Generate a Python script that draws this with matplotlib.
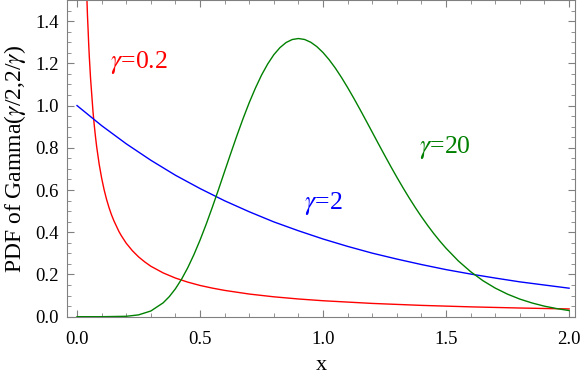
import numpy as np
import matplotlib.pyplot as plt
from matplotlib.ticker import MultipleLocator

plt.rcParams['font.family'] = ['Liberation Serif', 'DejaVu Serif']
plt.rcParams['mathtext.fontset'] = 'stix'

# gamma = 0.2
x_02 = [0.035, 0.0375, 0.04, 0.0425, 0.045, 0.0475, 0.05, 0.055, 0.06, 0.065, 0.07, 0.075, 0.08, 0.09,
        0.1, 0.11, 0.12, 0.13, 0.14, 0.15, 0.17, 0.18, 0.2, 0.225, 0.25, 0.275, 0.3, 0.35,
        0.4, 0.45, 0.5, 0.55, 0.6, 0.7, 0.8, 0.9, 1.0, 1.2, 1.4, 1.6, 1.8, 2.0]
y_02 = [1.706, 1.603, 1.513, 1.4265, 1.361, 1.290, 1.231, 1.130, 1.050, 0.971, 0.908, 0.853, 0.804, 0.7227,
        0.657, 0.6021, 0.556, 0.517, 0.4831, 0.454, 0.4044, 0.3838, 0.348, 0.3126, 0.2835, 0.2597, 0.239, 0.2075,
        0.183, 0.1638, 0.148, 0.1354, 0.1246, 0.1073, 0.0942, 0.0839, 0.0756, 0.0629, 0.0536, 0.0466, 0.0411, 0.0367]

# gamma = 2 (blue)
x_2 = [0.0, 0.1, 0.2, 0.3, 0.4, 0.5, 0.6, 0.7, 0.8, 0.9, 1.0, 1.1, 1.2, 1.3, 1.4, 1.5, 1.6, 1.7, 1.8, 1.9, 2.0]
y_2 = [1.0, 0.905, 0.819, 0.741, 0.670, 0.607, 0.549, 0.497, 0.449, 0.407, 0.368, 0.333, 0.301, 0.273,
       0.247, 0.223, 0.202, 0.183, 0.165, 0.150, 0.135]

# gamma = 20 (green)
x_20 = [0.0, 0.1, 0.2, 0.25, 0.3, 0.35, 0.375, 0.4, 0.425, 0.45, 0.475, 0.5, 0.525, 0.55, 0.575, 0.6,
        0.625, 0.65, 0.675, 0.7, 0.725, 0.75, 0.775, 0.8, 0.825, 0.85, 0.875, 0.9, 0.925, 0.95, 0.975,
        1.0, 1.025, 1.05, 1.075, 1.1, 1.125, 1.15, 1.175, 1.2, 1.225, 1.25, 1.275, 1.3, 1.325, 1.35, 1.375,
        1.4, 1.425, 1.45, 1.475, 1.5, 1.55, 1.6, 1.65, 1.7, 1.75, 1.8, 1.85, 1.9, 1.95, 2.0]
y_20 = [0.0, 0.00001, 0.0019, 0.0086, 0.027, 0.0656, 0.095, 0.1323, 0.1778, 0.2317, 0.2936, 0.3627, 0.438,
        0.5186, 0.6023, 0.6885, 0.7741, 0.8581, 0.9386, 1.014, 1.0825, 1.1444, 1.197, 1.241, 1.2746, 1.2988,
        1.3129, 1.3175, 1.313, 1.2999, 1.279, 1.251, 1.2168, 1.1773, 1.133, 1.085, 1.0346, 0.982, 0.9281,
        0.8737, 0.8191, 0.7652, 0.7121, 0.6605, 0.6106, 0.5627, 0.5169, 0.4734, 0.4324, 0.3937, 0.3577,
        0.3241, 0.2639, 0.2131, 0.1704, 0.1353, 0.1066, 0.0833, 0.0648, 0.0498, 0.0384, 0.0291]

red = '#ff0000'
blue = '#0000ff'
green = '#008000'

fig = plt.figure(figsize=(5.81, 3.78), dpi=100)
ax = fig.add_axes([67 / 581, 1 - 316.7 / 378, (575 - 67) / 581, 316.7 / 378])

ax.plot(x_02, y_02, color=red, lw=1)
ax.plot(x_2, y_2, color=blue, lw=1)
ax.plot(x_20, y_20, color=green, lw=1)

ax.set_xlim(-0.0407, 2.024)
ax.set_ylim(0, 1.5)

ax.xaxis.set_major_locator(MultipleLocator(0.5))
ax.xaxis.set_minor_locator(MultipleLocator(0.1))
ax.yaxis.set_major_locator(MultipleLocator(0.2))
ax.yaxis.set_minor_locator(MultipleLocator(0.05))
ax.xaxis.set_major_formatter(plt.FormatStrFormatter('%.1f'))
ax.yaxis.set_major_formatter(plt.FormatStrFormatter('%.1f'))

frame = '#808080'
for s in ax.spines.values():
    s.set_color(frame)
    s.set_linewidth(0.8)
ax.tick_params(which='both', direction='in', color=frame, top=True, right=True, labelsize=13.5)
ax.tick_params(which='major', length=5)
ax.tick_params(which='minor', length=3)
ax.tick_params(axis='x', pad=10)
ax.tick_params(axis='y', pad=6)

ax.set_xlabel('x', fontsize=16, labelpad=6)
ax.set_ylabel(r'PDF of Gamma($\gamma$/2,2/$\gamma$)', fontsize=17, labelpad=5)

ax.text(0.25, 1.205, r'$\gamma$=0.2', color=red, fontsize=18.5, ha='center', va='center')
ax.text(1.0, 0.535, r'$\gamma$=2', color=blue, fontsize=18.5, ha='center', va='center')
ax.text(1.495, 0.80, r'$\gamma$=20', color=green, fontsize=18.5, ha='center', va='center')

fig.savefig('out.png', dpi=100)
